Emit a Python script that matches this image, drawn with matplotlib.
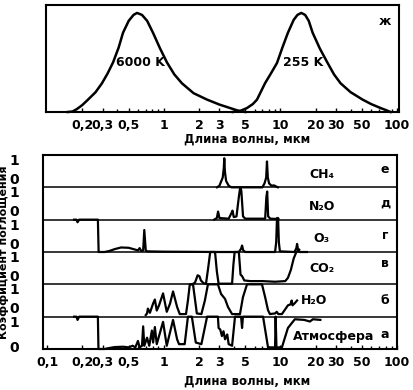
# Спектры излучения Солнца/Земли и полосы поглощения атмосферных газов

import numpy as np
import matplotlib.pyplot as plt

# --- верхняя панель: излучение (нормировано на максимум) ---
sun_wl = [0.15, 0.165, 0.18, 0.2, 0.224, 0.26, 0.295, 0.33, 0.367, 0.41, 0.447, 0.5, 0.55,
          0.59, 0.65, 0.72, 0.808, 0.93, 1.065, 1.23, 1.43, 1.8, 2.35, 3.0, 3.7, 4.3, 5.0]
sun_val = [0, 0.005, 0.03, 0.07, 0.125, 0.2, 0.29, 0.39, 0.5, 0.65, 0.8, 0.92, 0.98,
           1.0, 0.98, 0.92, 0.8, 0.64, 0.5, 0.38, 0.29, 0.19, 0.125, 0.075, 0.04, 0.015, 0.0]

earth_wl = [3.9, 4.5, 5.17, 5.8, 6.3, 7.38, 8.3, 9.35, 10.4, 11.6, 13.0, 14.0, 15.1, 16.3,
            17.5, 18.9, 21.8, 25.4, 28.8, 32.8, 40, 50.7, 60, 72.3, 80, 88]
earth_val = [0, 0.01, 0.04, 0.08, 0.125, 0.29, 0.39, 0.495, 0.65, 0.8, 0.93, 0.98, 1.0, 0.98,
             0.92, 0.8, 0.64, 0.495, 0.38, 0.29, 0.2, 0.125, 0.08, 0.04, 0.02, 0.0]

# --- нижняя панель: коэффициенты поглощения ---
ch4_wl = [2.86, 3.0, 3.1, 3.2, 3.27, 3.3, 3.34, 3.42, 3.6, 3.8, 7.0, 7.3, 7.55, 7.67, 7.8,
          8.0, 8.4, 8.8, 9.5]
ch4_val = [0, 0.05, 0.18, 0.3, 0.6, 0.9, 0.5, 0.2, 0.05, 0.0, 0.0, 0.12, 0.3, 0.8, 0.3,
           0.12, 0.05, 0.06, 0.0]

n2o_wl = [2.7, 2.85, 2.92, 3.0, 3.6, 3.8, 3.88, 3.98, 4.2, 4.4, 4.52, 4.62, 4.78, 5.0,
          7.4, 7.58, 7.7, 7.85, 8.2, 9.6]
n2o_val = [0.0, 0.05, 0.25, 0.05, 0.03, 0.2, 0.28, 0.08, 0.1, 0.7, 1.0, 0.9, 0.1, 0.03,
           0.03, 0.7, 0.87, 0.1, 0.03, 0.02]

o3_wl = [0.17, 0.178, 0.182, 0.188, 0.272, 0.276, 0.31, 0.34, 0.38, 0.43, 0.5, 0.56, 0.6,
         0.62, 0.64, 0.665, 0.68, 0.7, 0.72, 1.0, 3.0, 4.4, 4.6, 4.69, 4.8, 5.0, 9.0, 9.2,
         9.35, 9.55, 9.7, 9.9, 13.2, 13.7, 13.9, 14.2, 14.6, 16.9]
o3_val = [1.0, 1.0, 0.92, 1.0, 1.0, 0.0, 0.0, 0.03, 0.09, 0.14, 0.13, 0.08, 0.05,
          0.12, 0.03, 0.05, 0.68, 0.05, 0.02, 0.01, 0.0, 0.0, 0.1, 0.2, 0.05, 0.0, 0.0, 0.3,
          1.05, 1.05, 0.3, 0.02, 0.0, 0.12, 0.25, 0.05, 0.0, 0.0]

co2_wl = [1.75, 1.85, 1.95, 2.02, 2.08, 2.2, 2.3, 2.4, 2.5, 2.75, 2.85, 2.95, 3.85, 3.95,
          4.05, 4.4, 4.55, 4.7, 4.9, 5.5, 7.0, 9.0, 11.0, 11.6, 12.3, 13.0, 13.7, 14.5]
co2_val = [0.0, 0.05, 0.28, 0.25, 0.12, 0.03, 0.02, 0.5, 1.0, 1.0, 0.4, 0.02, 0.02, 0.6,
           1.0, 1.0, 0.3, 0.25, 0.12, 0.1, 0.1, 0.08, 0.1, 0.2, 0.45, 0.8, 1.0, 1.07]

h2o_wl = [0.70, 0.718, 0.73, 0.76, 0.808, 0.838, 0.87, 0.91, 0.985, 1.06, 1.13, 1.20, 1.30,
          1.37, 1.55, 1.61, 1.67, 1.78, 1.92, 2.1, 2.25, 2.39, 2.91, 3.1, 3.35, 3.55, 3.85,
          4.5, 4.77, 5.17, 6.95, 7.4, 7.83, 8.13, 9.0, 9.3, 9.6, 10.3, 11.6, 12.2, 12.5,
          12.7, 13.3, 13.9]
h2o_val = [0.05, 0.1, 0.25, 0.12, 0.4, 0.53, 0.19, 0.35, 0.72, 0.15, 0.4, 0.78, 0.3,
           0.08, 0.08, 0.5, 1.0, 1.0, 0.1, 0.08, 0.5, 1.0, 1.0, 0.7, 0.55, 0.3, 0.08,
           0.08, 0.6, 1.0, 1.0, 0.6, 0.2, 0.08, 0.1, 0.15, 0.08, 0.08, 0.35, 0.38, 0.5,
           0.35, 0.42, 0.5]

atm_wl = [0.17, 0.178, 0.182, 0.188, 0.272, 0.275, 0.31, 0.34, 0.38, 0.45, 0.5, 0.54, 0.57,
          0.60, 0.62, 0.65, 0.665, 0.68, 0.718, 0.75, 0.79, 0.81, 0.838, 0.87, 0.985, 1.06,
          1.20, 1.30, 1.35, 1.51, 1.61, 1.74, 1.88, 2.1, 2.35, 2.91, 2.95, 3.05, 3.15, 3.25,
          3.35, 3.5, 3.6, 3.85, 4.08, 4.6, 4.69, 4.77, 7.1, 7.83, 9.0, 9.1, 9.25, 10.3, 11.6,
          13.3, 16.0, 17.9, 19.0, 22.0]
atm_val = [1.0, 1.0, 0.9, 1.0, 1.0, 0.0, 0.0, 0.03, 0.06, 0.07, 0.05, 0.1, 0.05,
           0.25, 0.05, 0.1, 0.7, 0.1, 0.35, 0.1, 0.57, 0.2, 0.68, 0.15, 0.84, 0.1,
           0.9, 0.3, 0.15, 0.15, 1.0, 1.0, 0.2, 0.15, 1.0, 1.0, 0.65, 0.6, 0.4, 0.55,
           0.3, 0.45, 0.15, 0.1, 1.0, 1.0, 0.65, 1.0, 1.0, 0.05, 0.05, 1.0, 0.05, 0.05, 0.65,
           0.92, 0.9, 0.85, 0.92, 0.9]

# строки снизу вверх: подпись газа, буква
row_names = ['Атмосфера', 'H₂O', 'CO₂', 'O₃', 'N₂O', 'CH₄']
row_letters = ['а', 'б', 'в', 'г', 'д', 'е']
row_wl = [atm_wl, h2o_wl, co2_wl, o3_wl, n2o_wl, ch4_wl]
row_val = [atm_val, h2o_val, co2_val, o3_val, n2o_val, ch4_val]

tick_vals = [0.1, 0.2, 0.3, 0.5, 1, 2, 3, 5, 10, 20, 30, 50, 100]
tick_txt = ['0,1', '0,2', '0,3', '0,5', '1', '2', '3', '5', '10', '20', '30', '50', '100']

plt.rcParams['font.family'] = 'DejaVu Sans'
plt.rcParams['font.weight'] = 'bold'
plt.rcParams['axes.labelweight'] = 'bold'
FS = 9

fig = plt.figure(figsize=(4.14, 3.90), dpi=100)

W, H = 414.0, 390.0
def px_axes(x0, y0, x1, y1):
    return fig.add_axes([x0 / W, 1 - y1 / H, (x1 - x0) / W, (y1 - y0) / H])

# ---------- верхняя панель ----------
ax1 = px_axes(46, 5, 399, 112)
ax1.plot(sun_wl, sun_val, color='k', lw=1.8, clip_on=False)
ax1.plot(earth_wl, earth_val, color='k', lw=1.8, clip_on=False)
ax1.set_xscale('log')
ax1.set_xlim(0.0977, 104)
ax1.set_ylim(0, 1.08)
ax1.set_yticks([])
ax1.set_xticks(tick_vals[1:])
ax1.set_xticklabels(tick_txt[1:], fontsize=FS)
ax1.tick_params(axis='x', which='both', direction='in', length=3, width=1, pad=5)
ax1.tick_params(axis='x', which='minor', length=2)
ax1.set_xlabel('Длина волны, мкм', fontsize=8.5)
ax1.xaxis.set_label_coords(0.57, -0.19)
ax1.text(0.626, 0.495, '6000 K', ha='center', va='center', fontsize=FS)
ax1.text(15.6, 0.495, '255 K', ha='center', va='center', fontsize=FS)
ax1.text(79, 0.91, 'ж', ha='center', va='center', fontsize=FS)
for s in ax1.spines.values():
    s.set_linewidth(1.5)

# ---------- нижняя панель ----------
ax2 = px_axes(43, 155, 397, 349)
ax2.set_xscale('log')
ax2.set_xlim(0.092, 100)
ax2.set_ylim(0, 6)

for i in range(6):
    base = i
    ax2.plot(row_wl[i], base + np.array(row_val[i]), color='k', lw=1.6, clip_on=False)
    if i > 0:
        ax2.axhline(i, color='k', lw=1.1)

name_x = [28.8, 19.4, 22.7, 22.7, 22.7, 22.7]
name_y = [0.39, 0.5, 0.5, 0.42, 0.42, 0.4]
letter_y = [0.45, 0.5, 0.65, 0.5, 0.5, 0.55]
for i in range(6):
    ax2.text(name_x[i], i + name_y[i], row_names[i], ha='center', va='center', fontsize=FS)
    ax2.text(79, i + letter_y[i], row_letters[i], ha='center', va='center', fontsize=FS)

# метки 0 / 1 слева для каждой полосы
yt, yl = [], []
for i in range(6):
    yt += [i + (0.09 if i == 0 else 0.27), i + 0.86]
    yl += ['0', '1']
ax2.set_yticks(yt)
ax2.set_yticklabels(yl, fontsize=10)
ax2.tick_params(axis='y', length=0, pad=17)

ax2.set_xticks(tick_vals)
ax2.set_xticklabels(tick_txt, fontsize=FS)
ax2.tick_params(axis='x', which='both', direction='in', length=3, width=1, pad=5)
ax2.tick_params(axis='x', which='minor', length=2)
ax2.set_xlabel('Длина волны, мкм', fontsize=8.5)
ax2.xaxis.set_label_coords(0.576, -0.13)
ax2.set_ylabel('Коэффициент поглощения', fontsize=8)
ax2.yaxis.set_label_coords(-0.096, 0.5)
for s in ax2.spines.values():
    s.set_linewidth(1.5)

fig.savefig('out.png', dpi=100)
